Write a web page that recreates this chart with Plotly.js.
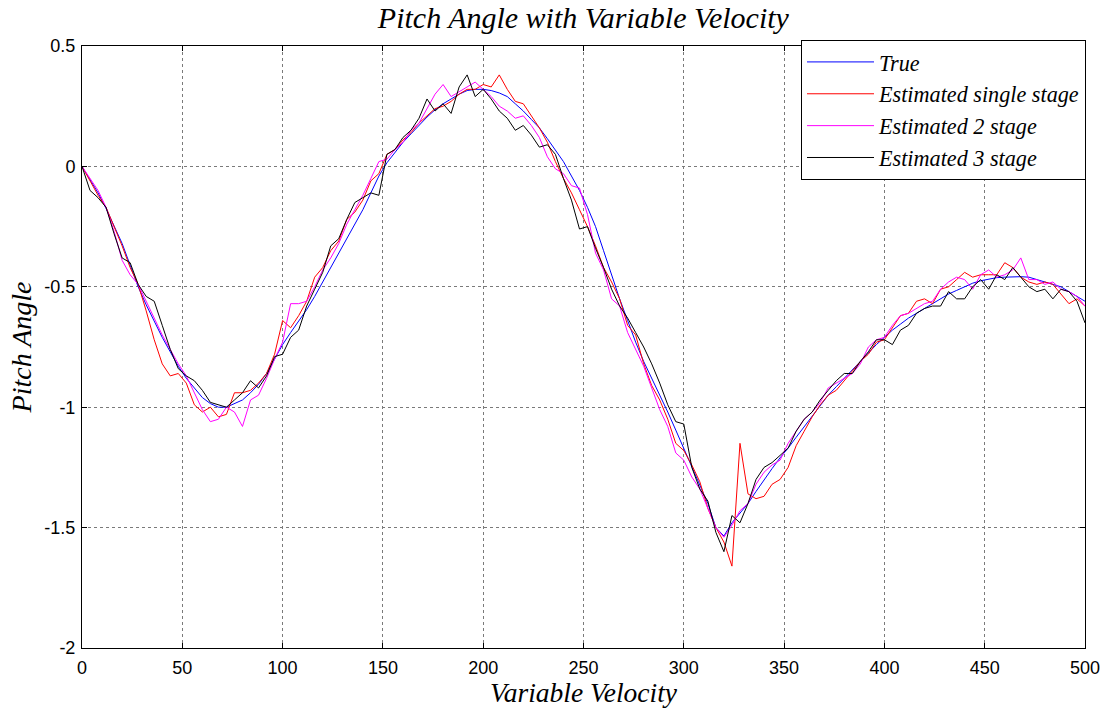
<!DOCTYPE html>
<html>
<head>
<meta charset="utf-8">
<script src="https://cdn.plot.ly/plotly-3.0.1.min.js"></script>
<style>html,body{margin:0;padding:0;background:#fff;}#chart{width:1107px;height:708px;}</style>
</head>
<body>
<div id="chart"></div>
<script>
// sample positions (Variable Velocity), step 4 from 0 to 500
var xStep = 4;
var xCount = 126;

var seriesNames = ["True", "Estimated single stage", "Estimated 2 stage", "Estimated 3 stage"];

var trueV = [
  0, -0.055, -0.11, -0.175, -0.245, -0.32, -0.41, -0.50, -0.575, -0.645,
  -0.71, -0.77, -0.83, -0.88, -0.92, -0.96, -0.985, -1.0, -1.0, -0.985,
  -0.97, -0.94, -0.905, -0.86, -0.80, -0.74, -0.69, -0.645, -0.595, -0.54,
  -0.48, -0.42, -0.36, -0.30, -0.24, -0.18, -0.11, -0.04, 0.015, 0.06,
  0.10, 0.135, 0.17, 0.205, 0.235, 0.26, 0.28, 0.30, 0.315, 0.32,
  0.32, 0.315, 0.305, 0.29, 0.26, 0.23, 0.195, 0.16, 0.115, 0.07,
  0.02, -0.04, -0.10, -0.17, -0.25, -0.35, -0.455, -0.55, -0.64, -0.73,
  -0.81, -0.88, -0.945, -1.02, -1.095, -1.17, -1.25, -1.32, -1.40, -1.50,
  -1.535, -1.48, -1.44, -1.40, -1.35, -1.30, -1.255, -1.21, -1.17, -1.125,
  -1.08, -1.035, -0.99, -0.95, -0.915, -0.88, -0.845, -0.81, -0.775, -0.74,
  -0.71, -0.68, -0.655, -0.63, -0.61, -0.59, -0.57, -0.55, -0.53, -0.515,
  -0.50, -0.485, -0.475, -0.468, -0.462, -0.46, -0.458, -0.458, -0.46, -0.47,
  -0.48, -0.49, -0.50, -0.52, -0.54, -0.56
];

var singleStage = [
  0, -0.06, -0.12, -0.17, -0.25, -0.33, -0.42, -0.49, -0.60, -0.72,
  -0.82, -0.87, -0.86, -0.90, -0.99, -1.02, -1.0, -1.04, -1.03, -0.94,
  -0.94, -0.93, -0.90, -0.86, -0.78, -0.64, -0.67, -0.62, -0.56, -0.46,
  -0.42, -0.35, -0.31, -0.22, -0.19, -0.14, -0.06, -0.03, 0.05, 0.07,
  0.11, 0.14, 0.18, 0.21, 0.24, 0.25, 0.27, 0.30, 0.32, 0.32,
  0.34, 0.33, 0.38, 0.32, 0.27, 0.26, 0.21, 0.16, 0.10, 0.02,
  -0.05, -0.11, -0.18, -0.25, -0.33, -0.42, -0.48, -0.55, -0.66, -0.70,
  -0.82, -0.91, -0.97, -1.05, -1.15, -1.18, -1.24, -1.31, -1.42, -1.50,
  -1.56, -1.66, -1.15, -1.36, -1.38, -1.37, -1.32, -1.30, -1.25, -1.16,
  -1.10, -1.04, -0.99, -0.95, -0.93, -0.89, -0.85, -0.81, -0.78, -0.73,
  -0.72, -0.67, -0.62, -0.61, -0.56, -0.55, -0.57, -0.51, -0.50, -0.47,
  -0.44, -0.46, -0.45, -0.45, -0.45, -0.40, -0.42, -0.46, -0.48, -0.49,
  -0.48, -0.49, -0.53, -0.57, -0.55, -0.58
];

var twoStage = [
  0, -0.05, -0.10, -0.17, -0.27, -0.39, -0.45, -0.49, -0.56, -0.63,
  -0.70, -0.76, -0.82, -0.87, -0.94, -1.01, -1.06, -1.05, -1.0, -1.02,
  -1.08, -0.97, -0.95, -0.88, -0.80, -0.73, -0.57, -0.57, -0.56, -0.50,
  -0.43, -0.38, -0.32, -0.24, -0.18, -0.12, -0.05, 0.02, 0.03, 0.07,
  0.10, 0.15, 0.18, 0.24, 0.30, 0.34, 0.29, 0.31, 0.33, 0.35,
  0.32, 0.29, 0.25, 0.23, 0.20, 0.21, 0.17, 0.12, 0.04, -0.01,
  -0.03, -0.08, -0.09, -0.20, -0.36, -0.43, -0.55, -0.58, -0.69, -0.76,
  -0.83, -0.92, -1.01, -1.08, -1.19, -1.22, -1.29, -1.34, -1.42, -1.50,
  -1.54, -1.49, -1.43, -1.40, -1.32, -1.27, -1.24, -1.22, -1.15, -1.10,
  -1.05, -1.02, -0.98, -0.92, -0.90, -0.88, -0.86, -0.82, -0.75, -0.72,
  -0.71, -0.66, -0.62, -0.61, -0.59, -0.57, -0.56, -0.51, -0.48, -0.46,
  -0.47, -0.51, -0.45, -0.43, -0.46, -0.45, -0.43, -0.38, -0.47, -0.47,
  -0.49, -0.48, -0.51, -0.52, -0.54, -0.58
];

var threeStage = [
  0, -0.10, -0.13, -0.17, -0.28, -0.38, -0.40, -0.49, -0.54, -0.56,
  -0.66, -0.76, -0.84, -0.87, -0.89, -0.93, -0.98, -0.99, -1.0, -0.97,
  -0.94, -0.89, -0.92, -0.87, -0.79, -0.78, -0.71, -0.68, -0.58, -0.51,
  -0.44, -0.33, -0.30, -0.22, -0.15, -0.13, -0.11, -0.12, 0.05, 0.07,
  0.12, 0.15, 0.20, 0.28, 0.23, 0.26, 0.22, 0.33, 0.38, 0.29,
  0.32, 0.28, 0.23, 0.20, 0.15, 0.17, 0.13, 0.08, 0.09, 0.05,
  -0.05, -0.14, -0.26, -0.25, -0.34, -0.42, -0.51, -0.58, -0.63, -0.69,
  -0.75, -0.82, -0.90, -0.99, -1.06, -1.07, -1.25, -1.34, -1.39, -1.52,
  -1.60, -1.45, -1.48, -1.40, -1.30, -1.25, -1.23, -1.20, -1.17, -1.10,
  -1.05, -1.02, -0.97, -0.93, -0.89, -0.86, -0.86, -0.81, -0.77, -0.72,
  -0.72, -0.74, -0.68, -0.66, -0.61, -0.59, -0.58, -0.58, -0.52, -0.55,
  -0.55, -0.50, -0.47, -0.51, -0.45, -0.47, -0.42, -0.46, -0.50, -0.52,
  -0.51, -0.55, -0.51, -0.52, -0.56, -0.65
];

var xTicks = [0, 50, 100, 150, 200, 250, 300, 350, 400, 450, 500];
var yTicks = [-2, -1.5, -1, -0.5, 0, 0.5];
var yTickText = ["-2", "-1.5", "-1", "-0.5", "0", "0.5"];

var xs = [];
for (var i = 0; i < xCount; i++) xs.push(i * xStep);

var colors = ["#0000ff", "#ff0000", "#ff00ff", "#000000"];
var values = [trueV, singleStage, twoStage, threeStage];

var traces = values.map(function (v, k) {
  return {
    x: xs, y: v, type: "scatter", mode: "lines", name: seriesNames[k],
    line: {color: colors[k], width: 1}
  };
});

var serif = "Liberation Serif, Times New Roman, serif";
var sans = "Liberation Sans, Arial, Helvetica, sans-serif";

var layout = {
  width: 1107, height: 708,
  paper_bgcolor: "#ffffff", plot_bgcolor: "#ffffff",
  margin: {l: 82, r: 22, t: 46, b: 60, autoexpand: false},
  title: {
    text: "Pitch Angle with Variable Velocity",
    font: {family: serif, size: 30, style: "italic", color: "#000"},
    x: 0.527, xanchor: "center", y: 0.975, yanchor: "middle"
  },
  xaxis: {
    range: [0, 500], tickvals: xTicks, ticktext: xTicks.map(String),
    showgrid: true, gridcolor: "#7a7a7a", griddash: "dot", gridwidth: 1,
    zeroline: false, showline: true, linecolor: "#000", linewidth: 1, mirror: "ticks",
    ticks: "inside", ticklen: 5, tickcolor: "#000",
    tickfont: {family: sans, size: 18, color: "#000"},
    ticklabelstandoff: 3,
    title: {text: "Variable Velocity", font: {family: serif, size: 27.5, style: "italic", color: "#000"}, standoff: 5}
  },
  yaxis: {
    range: [-2, 0.5], tickvals: yTicks, ticktext: yTickText,
    showgrid: true, gridcolor: "#7a7a7a", griddash: "dot", gridwidth: 1,
    zeroline: false, showline: true, linecolor: "#000", linewidth: 1, mirror: "ticks",
    ticks: "inside", ticklen: 5, tickcolor: "#000",
    tickfont: {family: sans, size: 18, color: "#000"},
    ticklabelstandoff: 2,
    title: {text: "Pitch Angle", font: {family: serif, size: 28, style: "italic", color: "#000"}, standoff: 4}
  },
  legend: {
    x: 1.001, xanchor: "right", y: 1.01, yanchor: "top",
    bgcolor: "#ffffff", bordercolor: "#000", borderwidth: 1,
    font: {family: serif, size: 22.2, style: "italic", color: "#000"},
    itemwidth: 67,
    tracegroupgap: 0
  },
  showlegend: true
};

Plotly.newPlot("chart", traces, layout, {displayModeBar: false, staticPlot: true}).then(function (gd) {
  // lengthen the visible legend line samples to match the reference legend
  var paths = gd.querySelectorAll(".legend .legendlines path");
  paths.forEach(function (p) {
    var d = p.getAttribute("d") || "";
    if (/^M5,0h30/.test(d)) p.setAttribute("d", "M10,0h57");
  });
});
</script>
</body>
</html>
